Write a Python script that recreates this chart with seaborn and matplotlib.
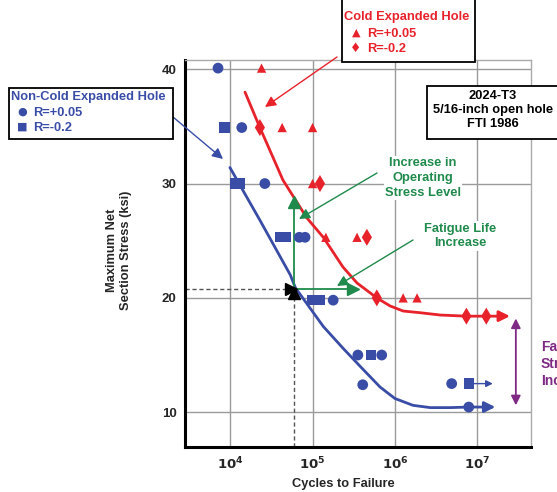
import numpy as np
import matplotlib
matplotlib.use("Agg")
import matplotlib.pyplot as plt
import matplotlib.patches as patches
import seaborn as sns

# ── Data ────────────────────────────────────────────────────
# Non-cold expanded hole
blue_circle_N = [7100, 13800, 26300, 69000, 81000, 178000, 355000, 692000, 407000, 4.9e6, 7.9e6]
blue_circle_S = [40.1, 34.9, 30.0, 25.3, 25.3, 19.8, 15.0, 15.0, 12.4, 12.5, 10.45]
blue_square_N = [8500, 11500, 13200, 40700, 46800, 100000, 123000, 513000, 7.9e6]
blue_square_S = [34.9, 30.0, 30.0, 25.3, 25.3, 19.8, 19.8, 15.0, 12.5]

# Cold expanded hole
red_tri_N = [24000, 42700, 100000, 100000, 145000, 347000, 1.26e6, 1.86e6]
red_tri_S = [40.1, 34.9, 34.9, 30.0, 25.3, 25.3, 20.0, 20.0]
red_dia_N = [22900, 123000, 457000, 603000, 7.4e6, 1.29e7]
red_dia_S = [34.9, 30.0, 25.3, 20.0, 18.4, 18.4]

# S-N trend curves
blue_fit_N = [9910, 22900, 53700, 61700, 85100, 135000, 234000, 380000, 661000,
              1.0e6, 1.66e6, 2.69e6, 4.68e6, 7.94e6]
blue_fit_S = [31.4, 26.8, 22.0, 20.9, 19.5, 17.5, 15.6, 14.0, 12.2,
              11.2, 10.6, 10.4, 10.4, 10.45]
red_fit_N = [15100, 22900, 43700, 85100, 135000, 234000, 347000, 603000, 871000,
             1.26e6, 2.04e6, 3.55e6, 7.4e6]
red_fit_S = [38.0, 34.9, 30.3, 27.0, 25.3, 22.7, 21.3, 20.0, 19.3,
             18.85, 18.7, 18.5, 18.4]

# run-out arrow ends
blue_runout_end = 1.66e7
red_runout_end = 2.5e7
square_runout_end = 1.55e7

# operating point and improvements
N_op, S_op = 59000, 20.8
S_op_up = 28.4
N_op_right = 311000
N_purple, S_purple_top, S_purple_bot = 2.95e7, 18.2, 10.6

x_ticks = [1e4, 1e5, 1e6, 1e7]
x_tick_labels = [r"$\mathbf{10^{4}}$", r"$\mathbf{10^{5}}$", r"$\mathbf{10^{6}}$", r"$\mathbf{10^{7}}$"]
y_ticks = [10, 20, 30, 40]

BLUE = "#3A4DA6"
RED = "#E8222B"
GREEN = "#1F8A4C"
PURPLE = "#7E2A84"
GRID = "#9a9a9a"
FS = 9.3

sns.set_style("white")
plt.rcParams["font.family"] = ["Liberation Sans", "DejaVu Sans"]
plt.rcParams["font.weight"] = "bold"

W, H = 557, 492
def fp(x, y):
    return (x / W, 1 - y / H)

fig = plt.figure(figsize=(W / 100, H / 100), dpi=100)
ax = fig.add_axes([185 / W, 1 - 447 / H, (531 - 185) / W, (447 - 60) / H])
ax.set_xscale("log")
ax.set_xlim(10 ** 3.45, 10 ** 7.654)
ax.set_ylim(6.955, 40.81)

ax.set_xticks(x_ticks)
ax.set_xticklabels(x_tick_labels)
ax.minorticks_off()
ax.set_yticks(y_ticks)
ax.set_yticklabels([str(v) for v in y_ticks], fontweight="bold")
ax.tick_params(length=0, labelsize=9.5, pad=6)
ax.grid(True, color=GRID, lw=1)
ax.set_axisbelow(True)
for s in ["top", "right"]:
    ax.spines[s].set_color("#aaaaaa")
    ax.spines[s].set_linewidth(1)
for s in ["left", "bottom"]:
    ax.spines[s].set_color("black")
    ax.spines[s].set_linewidth(2.2)

# ── Curves ───────────────────────────────────────────────────
sns.lineplot(x=blue_fit_N, y=blue_fit_S, color=BLUE, lw=2, ax=ax, estimator=None)
sns.lineplot(x=red_fit_N, y=red_fit_S, color=RED, lw=2, ax=ax, estimator=None)
ax.annotate("", xy=(blue_runout_end, blue_fit_S[-1]), xytext=(blue_fit_N[-1], blue_fit_S[-1]),
            arrowprops=dict(arrowstyle="-|>", color=BLUE, lw=2, mutation_scale=16, shrinkA=0, shrinkB=0))
ax.annotate("", xy=(red_runout_end, red_fit_S[-1]), xytext=(red_fit_N[-1], red_fit_S[-1]),
            arrowprops=dict(arrowstyle="-|>", color=RED, lw=2, mutation_scale=16, shrinkA=0, shrinkB=0))
ax.annotate("", xy=(square_runout_end, blue_square_S[-1]), xytext=(blue_square_N[-1], blue_square_S[-1]),
            arrowprops=dict(arrowstyle="-|>", color=BLUE, lw=1, mutation_scale=10, shrinkA=0, shrinkB=0))

# ── Data points ──────────────────────────────────────────────
sns.scatterplot(x=blue_circle_N, y=blue_circle_S, marker="o", s=60, color=BLUE, edgecolor="none", ax=ax, zorder=4)
sns.scatterplot(x=blue_square_N, y=blue_square_S, marker="s", s=55, color=BLUE, edgecolor="none", ax=ax, zorder=4)
sns.scatterplot(x=red_tri_N, y=red_tri_S, marker="^", s=45, color=RED, edgecolor="none", ax=ax, zorder=4)
sns.scatterplot(x=red_dia_N, y=red_dia_S, marker="d", s=75, color=RED, edgecolor="none", ax=ax, zorder=4)

# ── Operating point guides ──────────────────────────────────
ax.plot([ax.get_xlim()[0], N_op], [S_op, S_op], ls=(0, (3, 2)), color="#555555", lw=1, clip_on=False)
ax.plot([N_op, N_op], [ax.get_ylim()[0], S_op], ls=(0, (3, 2)), color="#555555", lw=1)
ax.plot([N_op * 0.93], [S_op], marker=">", ms=8, color="black", zorder=5)
ax.plot([N_op], [S_op - 0.35], marker="^", ms=8, color="black", zorder=5)
ax.plot([N_op, N_op], [S_op, S_op_up], color=GREEN, lw=1.3)
ax.plot([N_op, N_op_right], [S_op, S_op], color=GREEN, lw=1.3)
ax.plot([N_op], [S_op_up], marker="^", ms=9, color=GREEN, zorder=5)
ax.plot([N_op_right], [S_op], marker=">", ms=9, color=GREEN, zorder=5)

# purple fatigue strength increase
ax.annotate("", xy=(N_purple, S_purple_top), xytext=(N_purple, S_purple_bot),
            arrowprops=dict(arrowstyle="<|-|>", color=PURPLE, lw=1.3, mutation_scale=14, shrinkA=0, shrinkB=0),
            annotation_clip=False)

# ── Pointer arrows (figure pixels) ───────────────────────────
def pointer(start, end, color):
    fig.add_artist(patches.FancyArrowPatch(fp(*start), fp(*end), transform=fig.transFigure,
                                           arrowstyle="-|>", mutation_scale=16, color=color, lw=1,
                                           shrinkA=0, shrinkB=0, zorder=6))

pointer((173, 117), (223, 159), BLUE)
pointer((337, 57), (265, 107), RED)
pointer((377, 173), (299, 219), GREEN)
pointer((413, 240), (337, 286), GREEN)

# ── Text boxes ───────────────────────────────────────────────
def box(x0, y0, x1, y1):
    fig.add_artist(patches.Rectangle(fp(x0, y1), (x1 - x0) / W, (y1 - y0) / H, transform=fig.transFigure,
                                     facecolor="white", edgecolor="black", lw=1.3, zorder=7))

box(9, 88, 173, 139)
fig.text(*fp(11, 97), "Non-Cold Expanded Hole", color=BLUE, fontsize=FS, fontweight="bold", va="center", zorder=8)
fig.text(*fp(17, 112), "●", color=BLUE, fontsize=8, va="center", family=["DejaVu Sans"], zorder=8)
fig.text(*fp(33, 113), "R=+0.05", color=BLUE, fontsize=FS, fontweight="bold", va="center", zorder=8)
fig.text(*fp(17, 127), "■", color=BLUE, fontsize=8, va="center", family=["DejaVu Sans"], zorder=8)
fig.text(*fp(33, 128), "R=-0.2", color=BLUE, fontsize=FS, fontweight="bold", va="center", zorder=8)

box(342, -2, 475, 62)
fig.text(*fp(407, 17), "Cold Expanded Hole", color=RED, fontsize=FS, fontweight="bold", ha="center", va="center", zorder=8)
fig.text(*fp(356, 33), "▲", color=RED, fontsize=8, ha="center", va="center", family=["DejaVu Sans"], zorder=8)
fig.text(*fp(367, 34), "R=+0.05", color=RED, fontsize=FS, fontweight="bold", va="center", zorder=8)
fig.text(*fp(356, 48), "♦", color=RED, fontsize=9, ha="center", va="center", family=["DejaVu Sans"], zorder=8)
fig.text(*fp(367, 49), "R=-0.2", color=RED, fontsize=FS, fontweight="bold", va="center", zorder=8)

box(427, 86, 562, 139)
fig.text(*fp(493, 110), "2024-T3\n5/16-inch open hole\nFTI 1986", color="black", fontsize=FS,
         fontweight="bold", ha="center", va="center", linespacing=1.25, zorder=8)

fig.text(*fp(423, 178), "Increase in\nOperating\nStress Level", color=GREEN, fontsize=FS, fontweight="bold",
         ha="center", va="center", linespacing=1.3, zorder=8,
         bbox=dict(facecolor="white", edgecolor="none", pad=1))
fig.text(*fp(460, 236), "Fatigue Life\nIncrease", color=GREEN, fontsize=FS, fontweight="bold",
         ha="center", va="center", linespacing=1.3, zorder=8,
         bbox=dict(facecolor="white", edgecolor="none", pad=1))
fig.text(*fp(541, 364), "Fatigue\nStrength\nIncrease", color=PURPLE, fontsize=10, fontweight="bold",
         ha="left", va="center", linespacing=1.3, zorder=8)

# ── Axis labels ──────────────────────────────────────────────
fig.text(*fp(119, 250), "Maximum Net\nSection Stress (ksi)", rotation=90, fontsize=FS, fontweight="bold",
         ha="center", va="center", linespacing=1.15)
fig.text(*fp(343, 484), "Cycles to Failure", fontsize=FS, fontweight="bold", ha="center", va="center")

fig.savefig("out.png", dpi=100)
